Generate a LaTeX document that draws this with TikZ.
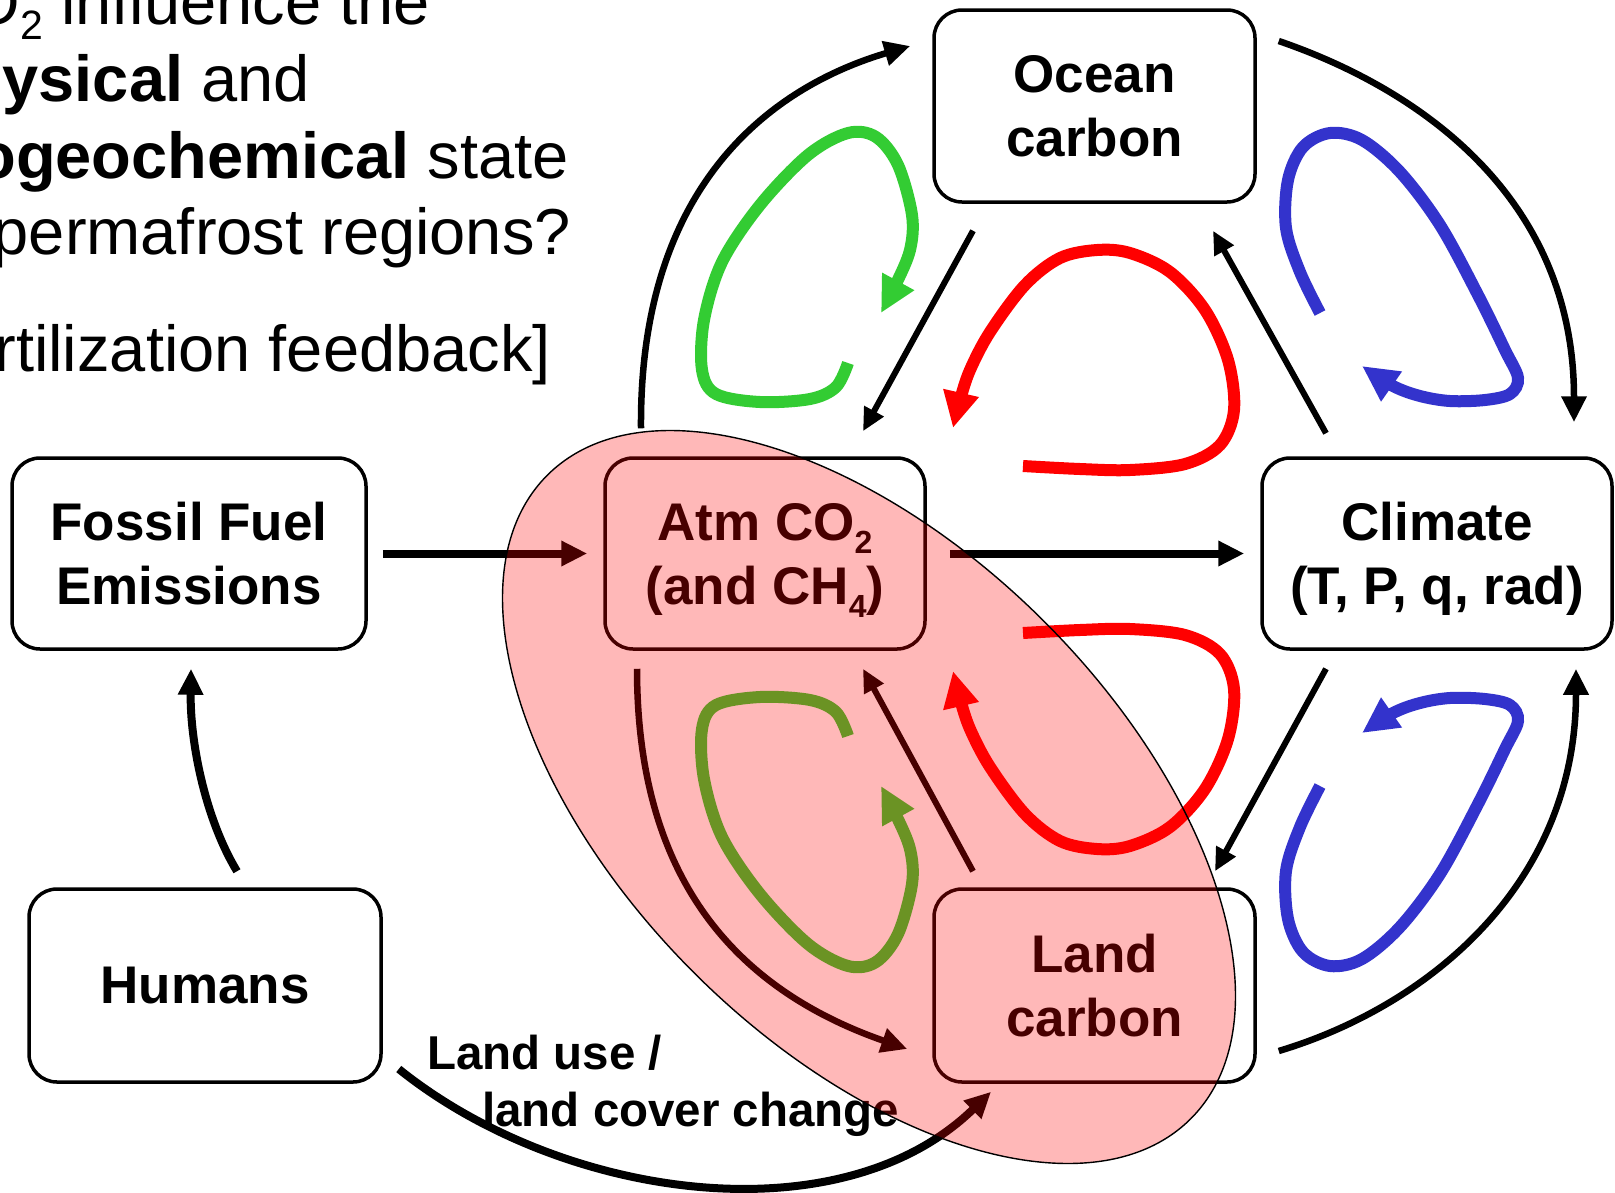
\documentclass[tikz,border=0pt]{standalone}
\usepackage{fontspec}
\setmainfont{Liberation Sans}
\usetikzlibrary{arrows.meta,calc}
\definecolor{lgreen}{RGB}{51,204,51}
\definecolor{lblue}{RGB}{51,51,204}
\newcommand{\boxfont}{\fontsize{53}{64}\selectfont\bfseries}
\newcommand{\qfont}{\fontsize{65}{77}\selectfont}
\newcommand{\sbs}[1]{\raisebox{-13pt}[0pt][0pt]{\fontsize{32}{32}\selectfont #1}}
\newcommand{\qsbs}[1]{\raisebox{-15pt}[0pt][0pt]{\fontsize{41}{41}\selectfont #1}}
\begin{document}
\begin{tikzpicture}[x=1pt,y=-1pt,
  box/.style={draw=black, line width=3.5pt, rounded corners=28pt, align=center,
    font=\boxfont, inner sep=0pt, text depth=0pt},
  blk/.style={line width=6.5pt, -{Triangle[length=26pt,width=24pt]}},
  wide/.style={line width=8pt, -{Triangle[length=26pt,width=24pt]}},
  thinarr/.style={line width=6pt, -{Triangle[length=23pt,width=21pt]}},
  fb/.style={line width=12pt, -{Triangle[length=36pt,width=34pt]}},
  qtext/.style={anchor=base east, inner sep=0pt, font=\qfont},
  lbl/.style={anchor=base west, inner sep=0pt, font=\fontsize{47.5}{57}\selectfont\bfseries}]
\useasboundingbox (0,0) rectangle (1615,1192);
\fill[white] (0,0) rectangle (1615,1192);

% question text (cut at the left edge)
\begin{scope}
\clip (0,0) rectangle (1615,1192);
\node[qtext] (t1) at (430,24) {O\qsbs{2} influence the};
\node[qtext] (t2) at (310,101) {\textbf{physical} and};
\node[qtext] (t3) at (569,178) {\textbf{biogeochemical} state};
\node[qtext] (t4) at (571,254) {permafrost regions?};
\node[qtext] (t5) at (551,371) {fertilization feedback]};
\end{scope}

% boxes
\node[box, minimum width=354pt, minimum height=191pt] (ff) at (189,553.5) {Fossil Fuel\\Emissions};
\node[box, minimum width=352pt, minimum height=193pt] (hum) at (205,985.5) {Humans};
\node[box, minimum width=320pt, minimum height=191pt] (atm) at (765,553.5) {Atm CO\sbs{2}\\(and CH\sbs{4})};
\node[box, minimum width=321pt, minimum height=192pt] (ocean) at (1094.5,106) {Ocean\\carbon};
\node[box, minimum width=350pt, minimum height=191pt] (clim) at (1437,553.5) {Climate\\(T, P, q, rad)};
\node[box, minimum width=321pt, minimum height=193pt] (land) at (1094.5,985.5) {Land\\carbon};

% label
\node[lbl] (lu1) at (427,1069) {Land use /};
\node[lbl] (lu2) at (482,1126) {land cover change};

% straight connectors
\draw[wide, shorten <=15pt, shorten >=16pt] (ff.east) -- (atm.west);
\draw[wide, shorten <=23pt, shorten >=16pt] (atm.east) -- (clim.west);
\draw[thinarr] ($(ocean.south)+(-121.5,27)$) -- ($(atm.north)+(98,-25)$);
\draw[thinarr] ($(land.north)+(-121.5,-16)$) -- ($(atm.south)+(98,18)$);
\draw[thinarr] ($(clim.north)+(-111,-23)$) -- ($(ocean.south)+(118.5,27)$);
\draw[thinarr] ($(clim.south)+(-111,18)$) -- ($(land.north)+(120.5,-16)$);

% curved connectors
\draw[wide] ($(hum.north)+(32,-16)$) .. controls ($(hum.north)+(0,-69)$) and ($(ff.south)+(1,91)$) .. ($(ff.south)+(2,18)$);
\draw[blk] ($(atm.north)+(-124,-28)$) .. controls ($(atm.north)+(-126,-278)$) and ($(ocean.west)+(-154,-21)$) .. ($(ocean.west)+(-22,-60)$);
\draw[blk] ($(ocean.east)+(22,-65)$) .. controls ($(ocean.east)+(165,-16)$) and ($(clim.north)+(137,-258)$) .. ($(clim.north)+(137,-34)$);
\draw[blk] ($(land.east)+(22,65.5)$) .. controls ($(land.east)+(175,19.5)$) and ($(clim.south)+(139,231)$) .. ($(clim.south)+(139,18)$);
\draw[blk] ($(atm.south)+(-128,18)$) .. controls ($(atm.south)+(-128,231)$) and ($(land.west)+(-194,4.5)$) .. ($(land.west)+(-25,63.5)$);
\draw[wide] ($(hum.east)+(16,83.5)$) .. controls ($(hum.east)+(179,214.5)$) and ($(land.south)+(-254.5,155)$) .. ($(land.south)+(-103.5,8)$);

% feedback loops
\draw[fb, lgreen] plot[smooth, tension=0.55] coordinates {(848,363) (836,387) (810,399) (760,402) (716,394) (702,370) (704,320) (722,262) (760,205) (808,155) (848,133) (876,137) (898,165) (912,215) (910,250) (896,284) (881,313)};
\draw[fb, lgreen] plot[smooth, tension=0.55] coordinates {(848,736) (836,712) (810,700) (760,697) (716,705) (702,729) (704,779) (722,837) (760,894) (808,944) (848,966) (876,962) (898,934) (912,884) (910,849) (896,815) (881,786)};
\draw[fb, red] plot[smooth, tension=0.55] coordinates {(1023,466) (1080,469) (1130,470) (1185,464) (1220,445) (1234,410) (1228,360) (1205,310) (1170,272) (1130,253) (1097,250) (1060,258) (1025,285) (990,332) (970,370) (960,400) (953,428)};
\draw[fb, red] plot[smooth, tension=0.55] coordinates {(1023,633) (1080,630) (1130,629) (1185,635) (1220,654) (1234,689) (1228,739) (1205,789) (1170,827) (1130,846) (1097,849) (1060,841) (1025,814) (990,767) (970,729) (960,699) (953,671)};
\draw[fb, lblue] plot[smooth, tension=0.55] coordinates {(1320,313) (1300,272) (1286,228) (1288,180) (1303,147) (1330,133) (1362,140) (1400,172) (1440,225) (1478,295) (1505,350) (1518,378) (1510,394) (1485,400) (1450,401) (1420,396) (1393,386) (1362,366)};
\draw[fb, lblue] plot[smooth, tension=0.55] coordinates {(1320,786) (1300,827) (1286,871) (1288,919) (1303,952) (1330,966) (1362,959) (1400,927) (1440,874) (1478,804) (1505,749) (1518,721) (1510,705) (1485,699) (1450,698) (1420,703) (1393,713) (1362,733)};

% translucent ellipse on top
\draw[black, line width=1.4pt, fill=red, fill opacity=0.28, rotate around={-45:(869,797)}] (869,797) ellipse [x radius=455, y radius=248];
\end{tikzpicture}
\end{document}
